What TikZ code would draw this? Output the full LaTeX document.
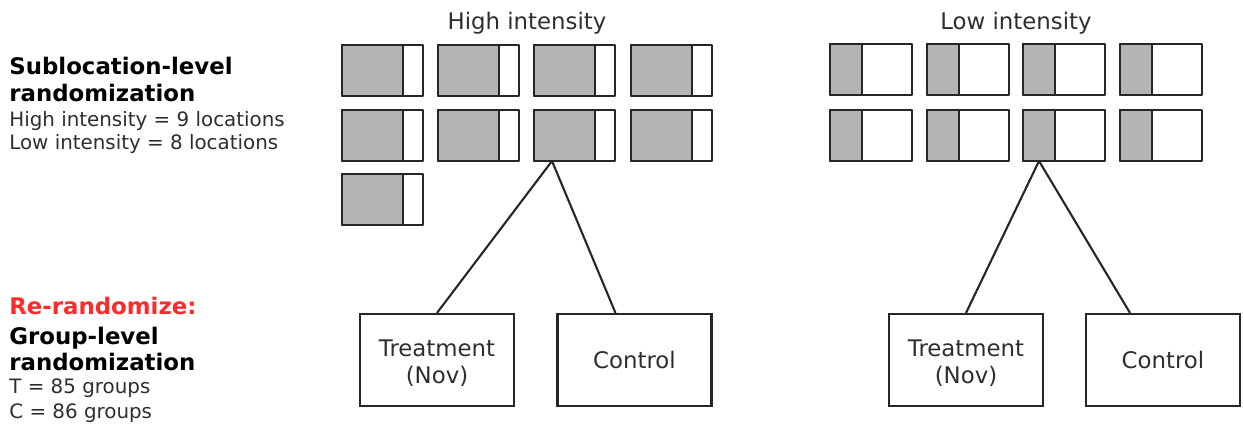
\documentclass[tikz,border=0pt]{standalone}
\usepackage{fontspec}
\setmainfont{DejaVu Sans}
\usepackage{tikz}
\definecolor{boxgray}{HTML}{B4B4B4}
\definecolor{inkgray}{HTML}{2E2E2E}
\definecolor{rered}{HTML}{FF2B2B}
\newcommand{\highbox}[2]{\filldraw[locbox,fill=boxgray] (#1,#2) rectangle ++(61,51); \draw[locbox] (#1,#2) rectangle ++(81,51);}
\newcommand{\lowbox}[2]{\filldraw[locbox,fill=boxgray] (#1,#2) rectangle ++(32,51); \draw[locbox] (#1,#2) rectangle ++(82,51);}

\begin{document}
\begin{tikzpicture}[x=0.2mm,y=-0.2mm,
		locbox/.style={draw=black!85,line width=1.3pt,line join=round},
		link/.style={draw=black!85,line width=1.2pt},
		head/.style={font=\bfseries\fontsize{13}{15}\selectfont,anchor=base west,inner sep=0},
		note/.style={font=\fontsize{11.3}{13}\selectfont,text=inkgray,anchor=base west,inner sep=0},
		grouptitle/.style={font=\fontsize{13}{15}\selectfont,text=inkgray,anchor=base,inner sep=0},
		armbox/.style={draw=black!85,line width=1.2pt,minimum width=30.8mm,minimum height=18.4mm,
			font=\fontsize{13}{15}\selectfont,text=inkgray,align=center,inner sep=0}]
			\useasboundingbox (0,0) rectangle (1244,424);
			
			% left hand text
			\node[head] (subhead) at (9,75) {Sublocation-level};
			\node[head] (subrand) at (9,102) {randomization};
			\node[note] (hinote) at (9,127) {High intensity = 9 locations};
			\node[note] (lonote) at (9,150) {Low intensity = 8 locations};
			\node[head,text=rered] (rerand) at (9,315) {Re-randomize:};
			\node[head] (grphead) at (9,345) {Group-level};
			\node[head] (grprand) at (9,371) {randomization};
			\node[note] (tnote) at (9,394) {T = 85 groups};
			\node[note] (cnote) at (9,419) {C = 86 groups};
			
			% high intensity
			\node[grouptitle] (hititle) at (527,30) {High intensity};
			\highbox{342}{45}
			\highbox{438}{45}
			\highbox{534}{45}
			\highbox{631}{45}
			\highbox{342}{110}
			\highbox{438}{110}
			\highbox{534}{110}
			\highbox{631}{110}
			\highbox{342}{174}
			\coordinate (hiapex) at (552,161);
			\node[armbox] (hitreat) at (437,360) {\rule{0pt}{13pt}Treatment\\(Nov)};
			\node[armbox] (hictrl) at (634.5,360) {Control};
			\draw[link] (hiapex) -- (hitreat.north);
			\draw[link] (hiapex) -- ([xshift=-3.8mm]hictrl.north);
			
			% low intensity
			\node[grouptitle] (lotitle) at (1016,30) {Low intensity};
			\lowbox{830}{44}
			\lowbox{927}{44}
			\lowbox{1023}{44}
			\lowbox{1120}{44}
			\lowbox{830}{110}
			\lowbox{927}{110}
			\lowbox{1023}{110}
			\lowbox{1120}{110}
			\coordinate (loapex) at (1039,161);
			\node[armbox] (lotreat) at (966,360) {\rule{0pt}{13pt}Treatment\\(Nov)};
			\node[armbox] (loctrl) at (1163,360) {Control};
			\draw[link] (loapex) -- (lotreat.north);
			\draw[link] (loapex) -- ([xshift=-6.6mm]loctrl.north);
		\end{tikzpicture}
\end{document}
